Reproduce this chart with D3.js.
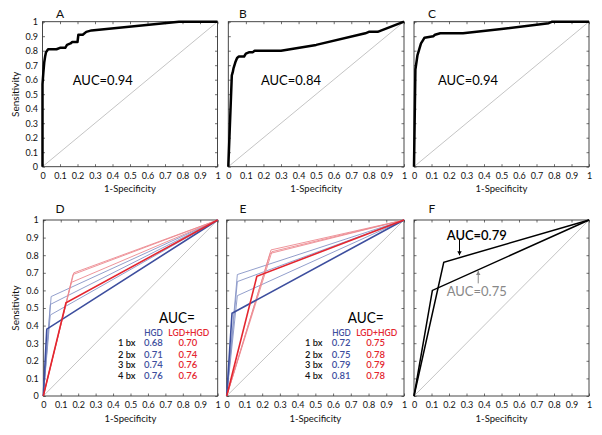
<!DOCTYPE html>
<html><head><meta charset="utf-8">
<script src="https://cdn.jsdelivr.net/npm/d3@7"></script>
<style>
body{margin:0;background:#fff;}
text{font-family:Lato,"Open Sans",sans-serif;}
</style></head>
<body><svg id="c" width="602" height="435"></svg>
<script>
// ---------- data ----------
const tickValues = [0,0.1,0.2,0.3,0.4,0.5,0.6,0.7,0.8,0.9,1];
const tickLabels = ["0","0.1","0.2","0.3","0.4","0.5","0.6","0.7","0.8","0.9","1"];

const rocA = [[0,0],[0,0.57],[0.005,0.65],[0.01,0.72],[0.015,0.76],[0.02,0.79],[0.032,0.81],[0.08,0.81],[0.1,0.82],[0.13,0.82],[0.14,0.84],[0.16,0.85],[0.17,0.86],[0.2,0.86],[0.205,0.91],[0.23,0.91],[0.25,0.93],[0.28,0.94],[0.78,1.0],[1,1]];
const rocB = [[0,0],[0.02,0.63],[0.025,0.65],[0.03,0.68],[0.04,0.72],[0.05,0.75],[0.06,0.76],[0.09,0.76],[0.1,0.78],[0.12,0.79],[0.14,0.79],[0.15,0.80],[0.3,0.80],[0.5,0.84],[0.78,0.92],[0.8,0.93],[0.85,0.93],[1,1]];
const rocC = [[0,0],[0.008,0.67],[0.02,0.77],[0.04,0.85],[0.05,0.87],[0.06,0.89],[0.11,0.90],[0.12,0.91],[0.15,0.92],[0.28,0.92],[0.5,0.95],[0.77,0.99],[0.79,1.0],[1,1]];
const aucTop = ["AUC=0.94","AUC=0.84","AUC=0.94"];

const boxLabels = ["1 bx","2 bx","3 bx","4 bx"];
const hgdD = [[0.02,0.38],[0.04,0.46],[0.04,0.52],[0.045,0.565]];
const lgdD = [[0.13,0.53],[0.16,0.645],[0.17,0.69],[0.175,0.70]];
const aucHgdD = ["0.68","0.71","0.74","0.76"];
const aucLgdD = ["0.70","0.74","0.76","0.76"];
const hgdE = [[0.03,0.47],[0.06,0.57],[0.06,0.65],[0.06,0.69]];
const lgdE = [[0.17,0.68],[0.245,0.81],[0.25,0.83],[0.255,0.82]];
const aucHgdE = ["0.72","0.75","0.79","0.81"];
const aucLgdE = ["0.75","0.78","0.79","0.78"];

const rocF1 = [[0,0],[0.17,0.76],[1,1]];
const rocF2 = [[0,0],[0.105,0.60],[1,1]];
const aucF = ["AUC=0.79","AUC=0.75"];

// ---------- layout ----------
const svg = d3.select("#c");
const BLUE="#3d4e9e", BLUE_L="#8795c6", RED="#e4262f", RED_L="#ec8a90";

function panel(o){
  const g = svg.append("g").attr("transform",`translate(${o.left},${o.top})`);
  const x = d3.scaleLinear().domain([0,1]).range([0,o.w]);
  const y = d3.scaleLinear().domain([0,1]).range([o.h,0]);
  const fmt = (d,i)=>tickLabels[i];
  const ts = -2.5;
  const ax = (a, tr, lab)=>{
    const gg = g.append("g").attr("transform",tr).call(a.tickValues(tickValues).tickSize(ts).tickPadding(lab?6:0).tickFormat(lab?fmt:()=>"" ));
    gg.select(".domain").remove();
    gg.selectAll("line").attr("stroke","#333").attr("stroke-width",0.7);
    gg.selectAll("text").attr("font-size",9).attr("fill","#111").attr("font-family","Lato,sans-serif");
    return gg;
  };
  ax(d3.axisBottom(x), `translate(0,${o.h})`, true);
  ax(d3.axisTop(x), `translate(0,0)`, false);
  const la = ax(d3.axisLeft(y), `translate(0,0)`, o.yLab);
  if(o.yLab) la.call(a=>a.selectAll(".tick text").attr("x",-4.5));
  ax(d3.axisRight(y), `translate(${o.w},0)`, false);
  g.append("line").attr("x1",x(0)).attr("y1",y(0)).attr("x2",x(1)).attr("y2",y(1))
    .attr("stroke","#b5b5b5").attr("stroke-width",0.8);
  g.append("rect").attr("width",o.w).attr("height",o.h).attr("fill","none").attr("stroke","#333").attr("stroke-width",0.9);
  g.append("text").attr("x",o.w/2).attr("y",o.h+25.5).attr("text-anchor","middle").attr("font-size",9.5).attr("fill","#111").text("1-Specificity");
  if(o.yLab){
    g.append("text").attr("transform",`translate(${15-o.left},${o.h/2}) rotate(-90)`).attr("text-anchor","middle").attr("dy","0.35em").attr("font-size",10).attr("fill","#111").text("Sensitivity");
  }
  svg.append("text").attr("x",o.tx).attr("y",o.ty).attr("text-anchor","middle").attr("dy","0.35em").attr("font-size",12).attr("fill","#111").text(o.title);
  return {g,x,y};
}

const lineGen = (p)=>d3.line().x(d=>p.x(d[0])).y(d=>p.y(d[1]));

const topPanels = [
  {left:42.5,top:21.7,w:175,h:145,yLab:true,title:"A",tx:60,ty:14,data:rocA,aucx:0.173},
  {left:228.3,top:21.7,w:175.7,h:145,yLab:false,title:"B",tx:243,ty:14,data:rocB,aucx:0.186},
  {left:414,top:21.7,w:175,h:145,yLab:false,title:"C",tx:432,ty:14,data:rocC,aucx:0.137}
];
topPanels.forEach((o,i)=>{
  const p = panel(o);
  p.g.append("path").datum(o.data).attr("d",lineGen(p)).attr("fill","none").attr("stroke","#000").attr("stroke-width",2.5).attr("stroke-linejoin","round");
  p.g.append("text").attr("x",p.x(o.aucx)).attr("y",p.y(0.6)).attr("dy","0.35em").attr("font-size",14).attr("fill","#000").attr("textLength",60).attr("lengthAdjust","spacingAndGlyphs").text(aucTop[i]);
});

function bottomTable(p, hgd, lgd, aH, aL, t){
  const cornerLine = (c)=>[[0,0],c,[1,1]];
  [1,2,3].forEach(k=>{
    p.g.append("path").datum(cornerLine(hgd[k])).attr("d",lineGen(p)).attr("fill","none").attr("stroke",BLUE_L).attr("stroke-width",1).attr("opacity",0.9);
  });
  [1,2,3].forEach(k=>{
    p.g.append("path").datum(cornerLine(lgd[k])).attr("d",lineGen(p)).attr("fill","none").attr("stroke",RED_L).attr("stroke-width",1).attr("opacity",0.9);
  });
  p.g.append("path").datum(cornerLine(hgd[0])).attr("d",lineGen(p)).attr("fill","none").attr("stroke",BLUE).attr("stroke-width",1.6);
  p.g.append("path").datum(cornerLine(lgd[0])).attr("d",lineGen(p)).attr("fill","none").attr("stroke",RED).attr("stroke-width",1.6);
  p.g.append("text").attr("x",t.aucX).attr("y",98).attr("dy","0.35em").attr("font-size",15).attr("fill","#000").attr("textLength",36).attr("lengthAdjust","spacingAndGlyphs").text("AUC=");
  const fw = 600;
  p.g.append("text").attr("x",t.hX-9).attr("y",112.5).attr("dy","0.35em").attr("font-size",9.5).attr("font-weight",fw).attr("fill",BLUE).attr("textLength",18.5).attr("lengthAdjust","spacingAndGlyphs").text("HGD");
  p.g.append("text").attr("x",t.lX-20.5).attr("y",112.5).attr("dy","0.35em").attr("font-size",9.5).attr("font-weight",fw).attr("fill",RED).attr("textLength",41).attr("lengthAdjust","spacingAndGlyphs").text("LGD+HGD");
  const rowY = [123,134.3,145,156];
  boxLabels.forEach((b,i)=>{
    p.g.append("text").attr("x",t.bX).attr("y",rowY[i]).attr("dy","0.35em").attr("font-size",9.5).attr("font-weight",fw).attr("fill","#111").attr("textLength",17.5).attr("lengthAdjust","spacingAndGlyphs").text(b);
    p.g.append("text").attr("x",t.hX).attr("y",rowY[i]).attr("dy","0.35em").attr("text-anchor","middle").attr("font-size",9.5).attr("font-weight",fw).attr("fill",BLUE).text(aH[i]);
    p.g.append("text").attr("x",t.lX-1).attr("y",rowY[i]).attr("dy","0.35em").attr("text-anchor","middle").attr("font-size",9.5).attr("font-weight",fw).attr("fill",RED).text(aL[i]);
  });
}
const pD = panel({left:43.3,top:220,w:174.4,h:176,yLab:true,title:"D",tx:60,ty:209});
bottomTable(pD, hgdD, lgdD, aucHgdD, aucLgdD, {aucX:115.7,hX:110,lX:145.5,bX:74.7});
const pE = panel({left:226.7,top:220,w:177.3,h:176,yLab:false,title:"E",tx:243,ty:209});
bottomTable(pE, hgdE, lgdE, aucHgdE, aucLgdE, {aucX:121,hX:114.5,lX:150,bX:78.3});

const pF = panel({left:414,top:220,w:175,h:176,yLab:false,title:"F",tx:432,ty:209});
pF.g.append("path").datum(rocF1).attr("d",lineGen(pF)).attr("fill","none").attr("stroke","#000").attr("stroke-width",1.5);
pF.g.append("path").datum(rocF2).attr("d",lineGen(pF)).attr("fill","none").attr("stroke","#000").attr("stroke-width",1.5);
pF.g.append("text").attr("x",pF.x(0.187)).attr("y",pF.y(0.915)).attr("dy","0.35em").attr("font-size",14).attr("font-weight",600).attr("fill","#000").attr("textLength",60).attr("lengthAdjust","spacingAndGlyphs").text(aucF[0]);
pF.g.append("text").attr("x",pF.x(0.187)).attr("y",pF.y(0.597)).attr("dy","0.35em").attr("font-size",14).attr("fill","#888").attr("textLength",60).attr("lengthAdjust","spacingAndGlyphs").text(aucF[1]);
function arrow(g,x,y1,y2,col){
  g.append("line").attr("x1",x).attr("y1",y1).attr("x2",x).attr("y2",y2).attr("stroke",col).attr("stroke-width",1);
  const d = y2>y1?-1:1;
  g.append("path").attr("d",`M${x-2.2},${y2+d*4}L${x},${y2}L${x+2.2},${y2+d*4}Z`).attr("fill",col);
}
arrow(pF.g, pF.x(0.26), pF.y(0.89), pF.y(0.80), "#000");
arrow(pF.g, pF.x(0.367), pF.y(0.64), pF.y(0.71), "#888");
</script></body></html>
